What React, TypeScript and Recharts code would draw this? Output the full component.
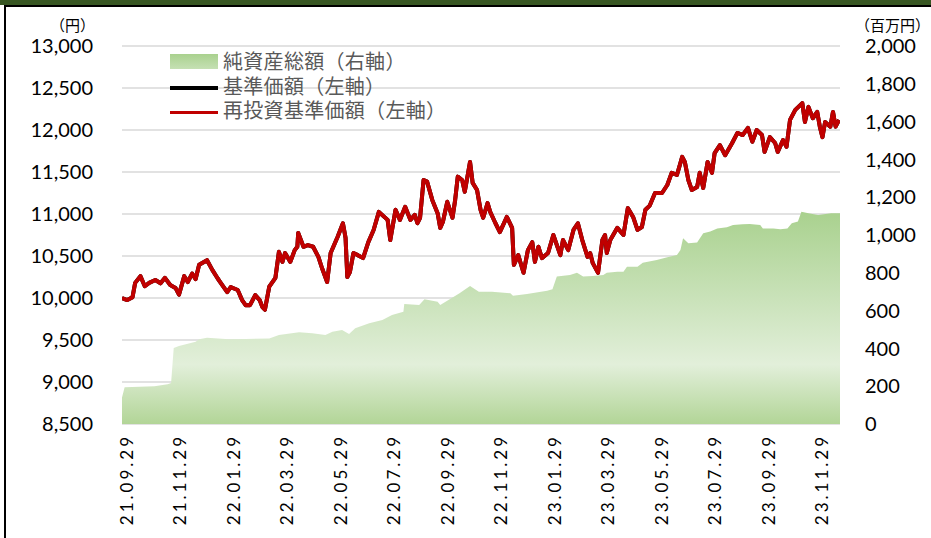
import React from 'react';
import { ComposedChart, Area, Line, XAxis, YAxis, CartesianGrid } from 'recharts';

// x positions are in days from 21.09.29 (label spacing ~61 days)
const tickDays = [0, 61, 122, 183, 244, 305, 366, 427, 488, 549, 610, 671, 732, 793];
const tickLabels = [
  '21.09.29', '21.11.29', '22.01.29', '22.03.29', '22.05.29', '22.07.29', '22.09.29',
  '22.11.29', '23.01.29', '23.03.29', '23.05.29', '23.07.29', '23.09.29', '23.11.29',
];

const navDays = [
  -5, 1, 7, 10, 16, 21, 26, 33, 39, 44, 50, 56, 60, 66, 70, 75, 79, 83, 92, 98,
  104, 107, 115, 119, 127, 132, 136, 141, 147, 152, 155, 158, 163, 170, 174, 178, 181, 187, 192, 195,
  196, 202, 207, 213, 219, 223, 229, 233, 241, 247, 250, 252, 255, 259, 264, 270, 276, 282, 288, 298,
  301, 307, 312, 318, 324, 329, 332, 335, 339, 343, 349, 355, 358, 361, 366, 372, 375, 378, 383, 386,
  392, 395, 400, 404, 407, 412, 415, 421, 426, 434, 440, 442, 447, 453, 458, 463, 466, 470, 474, 481,
  487, 495, 498, 504, 510, 515, 520, 526, 529, 532, 538, 543, 546, 548, 552, 560, 567, 572, 578, 583,
  588, 592, 597, 603, 611, 617, 622, 628, 634, 637, 641, 645, 651, 654, 658, 663, 668, 671, 677, 683,
  691, 697, 703, 709, 714, 719, 725, 728, 734, 740, 743, 749, 753, 757, 763, 771, 774, 778, 783, 788,
  791, 794, 797, 803, 806, 809, 813,
];
const navValues = [
  10000, 9975, 10010, 10180, 10260, 10140, 10180, 10215, 10175, 10240, 10155, 10120, 10040, 10260, 10190, 10290, 10225, 10395, 10450, 10335,
  10235, 10190, 10070, 10130, 10095, 9975, 9915, 9915, 10035, 9975, 9895, 9860, 10135, 10240, 10550, 10430, 10535, 10430, 10570, 10610,
  10775, 10610, 10630, 10610, 10490, 10360, 10190, 10535, 10730, 10890, 10715, 10250, 10310, 10535, 10510, 10475, 10665, 10810, 11025, 10930,
  10690, 11050, 10930, 11085, 10930, 10990, 10890, 10955, 11405, 11385, 11165, 11010, 10835, 10905, 11145, 10955, 11165, 11445, 11405, 11265,
  11620, 11370, 11285, 11050, 10955, 11130, 11025, 10890, 10785, 10965, 10835, 10395, 10510, 10300, 10570, 10665, 10430, 10610, 10475, 10535,
  10750, 10510, 10690, 10570, 10810, 10890, 10690, 10490, 10535, 10415, 10300, 10690, 10750, 10535, 10690, 10835, 10750, 11070, 10965, 10810,
  10845, 11050, 11100, 11250, 11250, 11345, 11490, 11465, 11680, 11620, 11405, 11285, 11320, 11490, 11310, 11620, 11490, 11725, 11820, 11700,
  11845, 11965, 11940, 12025, 11860, 12000, 11940, 11740, 11915, 11845, 11740, 11880, 11800, 12120, 12240, 12320, 12095, 12275, 12140, 12215,
  12040, 11915, 12095, 12040, 12215, 12040, 12120,
];

const assetDays = [
  -5, -2, 32, 47, 51, 54, 60, 79, 83, 92, 117, 136, 163, 174, 197, 212, 227, 235, 246, 254,
  261, 277, 292, 303, 316, 317, 334, 340, 355, 358, 380, 392, 402, 417, 438, 441, 457, 480, 486, 491,
  506, 514, 521, 532, 544, 548, 560, 567, 571, 583, 589, 605, 617, 628, 632, 635, 641, 651, 658, 666,
  674, 685, 692, 703, 711, 723, 726, 738, 746, 754, 759, 766, 770, 778, 789, 804, 814,
];
const assetValues = [
  140, 195, 200, 210, 217, 402, 413, 435, 448, 457, 448, 450, 453, 471, 485, 480, 471, 488, 497, 476,
  506, 533, 550, 577, 594, 635, 630, 660, 647, 630, 692, 730, 700, 700, 692, 679, 688, 705, 713, 780,
  788, 800, 780, 783, 788, 800, 806, 806, 832, 832, 853, 868, 882, 894, 921, 983, 956, 960, 1009, 1018,
  1035, 1041, 1053, 1057, 1058, 1053, 1035, 1035, 1030, 1035, 1062, 1071, 1123, 1115, 1106, 1115, 1115,
];

const leftTicks = [8500, 9000, 9500, 10000, 10500, 11000, 11500, 12000, 12500, 13000];
const rightTicks = [0, 200, 400, 600, 800, 1000, 1200, 1400, 1600, 1800, 2000];

const legendItems = [
  { label: '純資産総額（右軸）', kind: 'area' },
  { label: '基準価額（左軸）', kind: 'black' },
  { label: '再投資基準価額（左軸）', kind: 'red' },
];

const navData = navDays.map((day, i) => ({ day, nav: navValues[i], renav: navValues[i] }));
const assetData = assetDays.map((day, i) => ({ day, asset: assetValues[i] }));

const numFont = "Lato, 'Noto Sans CJK JP', sans-serif";
const cjkFont = "'Noto Sans CJK JP', sans-serif";

const XTick = ({ x, y, payload }: any) => {
  const idx = tickDays.indexOf(payload.value);
  const ty = y + 2;
  return (
    <text
      x={x}
      y={ty}
      transform={`rotate(-90, ${x}, ${ty})`}
      textAnchor="end"
      dominantBaseline="central"
      fontSize={17}
      letterSpacing={3}
      fontFamily={numFont}
      fill="#000"
    >
      {idx >= 0 ? tickLabels[idx] : ''}
    </text>
  );
};

function ChartLegend() {
  return (
    <div
      style={{
        position: 'absolute',
        left: 170,
        top: 49,
        fontFamily: cjkFont,
        fontSize: 20,
        letterSpacing: 0.3,
        color: '#595959',
      }}
    >
      {legendItems.map((r) => (
        <div key={r.label} style={{ display: 'flex', alignItems: 'center', height: 24.5 }}>
          <div style={{ width: 48, height: 16, marginRight: 5, display: 'flex', alignItems: 'center' }}>
            {r.kind === 'area' ? (
              <div style={{ width: 48, height: 15, background: 'linear-gradient(#a9d18e, #c5e0b4)' }} />
            ) : (
              <div
                style={{
                  width: 48,
                  height: 3.5,
                  marginTop: 4,
                  background: r.kind === 'black' ? '#000' : '#c00000',
                }}
              />
            )}
          </div>
          <span style={{ lineHeight: '24px' }}>{r.label}</span>
        </div>
      ))}
    </div>
  );
}

export default function App() {
  return (
    <div style={{ position: 'fixed', left: 0, top: 0, width: 931, height: 538, background: '#fff', overflow: 'hidden' }}>
      <ComposedChart
        width={931}
        height={538}
        margin={{ top: 46, right: 0, left: 0, bottom: 0 }}
      >
        <defs>
          <linearGradient id="assetFill" x1="0" y1="0" x2="0" y2="1">
            <stop offset="0%" stopColor="#a9d18e" />
            <stop offset="72%" stopColor="#e2efda" />
            <stop offset="100%" stopColor="#b2d597" />
          </linearGradient>
        </defs>
        <CartesianGrid yAxisId="left" vertical={false} stroke="#d9d9d9" strokeWidth={1.5} />
        <XAxis
          type="number"
          dataKey="day"
          domain={[-5, 814]}
          ticks={tickDays}
          interval={0}
          allowDataOverflow
          height={114}
          axisLine={false}
          tickLine={false}
          tick={<XTick />}
        />
        <YAxis
          yAxisId="left"
          domain={[8500, 13000]}
          ticks={leftTicks}
          interval={0}
          width={122}
          axisLine={false}
          tickLine={false}
          tickSize={0}
          tickMargin={29}
          tickFormatter={(v: number) => v.toLocaleString('en-US')}
          tick={{ fontSize: 20, fill: '#000', fontFamily: numFont }}
        />
        <YAxis
          yAxisId="right"
          orientation="right"
          domain={[0, 2000]}
          ticks={rightTicks}
          interval={0}
          width={91}
          axisLine={false}
          tickLine={false}
          tickSize={0}
          tickMargin={25}
          tickFormatter={(v: number) => v.toLocaleString('en-US')}
          tick={{ fontSize: 20, fill: '#000', fontFamily: numFont, textAnchor: 'start' }}
        />
        <Area
          data={assetData}
          yAxisId="right"
          dataKey="asset"
          type="linear"
          stroke="none"
          fill="url(#assetFill)"
          fillOpacity={1}
          isAnimationActive={false}
        />
        <Line
          data={navData}
          yAxisId="left"
          dataKey="nav"
          type="linear"
          stroke="#000"
          strokeWidth={4}
          strokeLinejoin="round"
          dot={false}
          isAnimationActive={false}
        />
        <Line
          data={navData}
          yAxisId="left"
          dataKey="renav"
          type="linear"
          stroke="#c00000"
          strokeWidth={4}
          strokeLinejoin="round"
          dot={false}
          isAnimationActive={false}
        />
      </ComposedChart>
      <ChartLegend />
      <div style={{ position: 'absolute', left: 50, top: 17, fontFamily: cjkFont, fontSize: 15, lineHeight: '15px', color: '#000' }}>（円）</div>
      <div style={{ position: 'absolute', left: 855, top: 17, fontFamily: cjkFont, fontSize: 15, lineHeight: '15px', color: '#000', whiteSpace: 'nowrap' }}>（百万円）</div>
      <div style={{ position: 'absolute', left: 0, top: 0, width: 931, height: 5, background: '#385723' }} />
      <div style={{ position: 'absolute', left: 4, top: 5, width: 927, height: 2, background: '#000' }} />
      <div style={{ position: 'absolute', left: 4, top: 5, width: 2, height: 533, background: '#000' }} />
    </div>
  );
}
